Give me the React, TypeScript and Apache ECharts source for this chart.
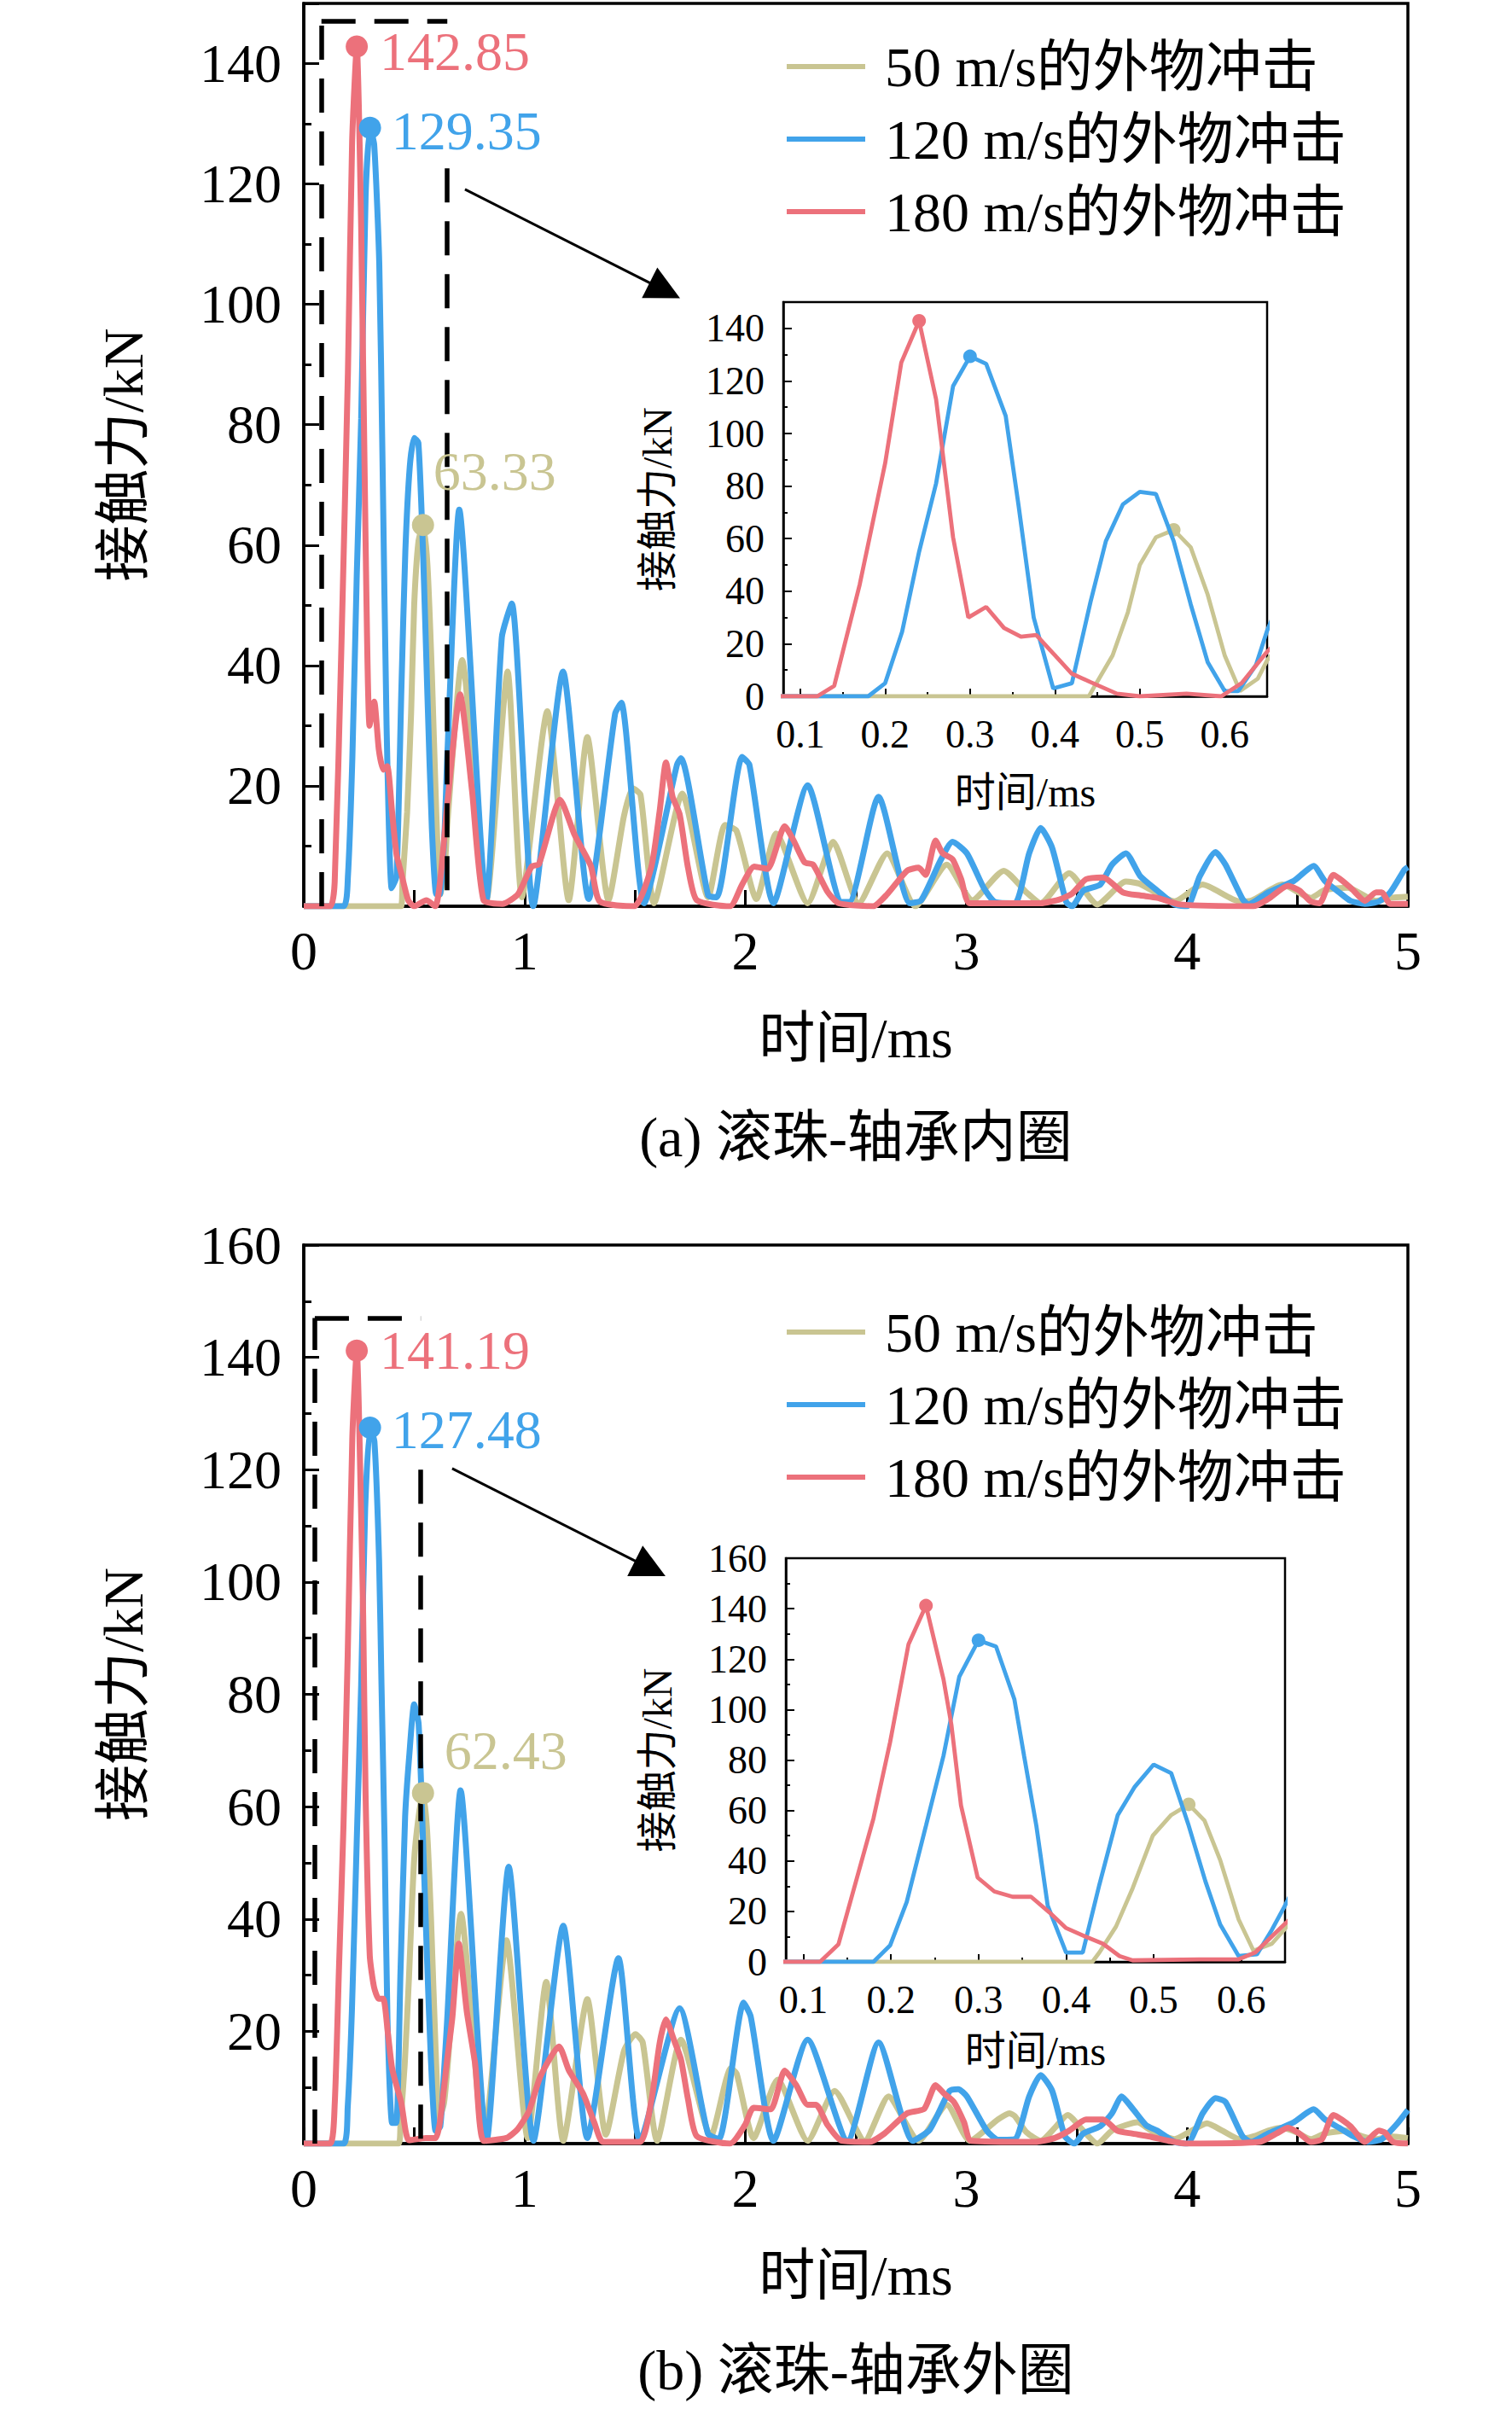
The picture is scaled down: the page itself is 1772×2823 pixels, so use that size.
import React, { useEffect, useRef } from "react";
import * as echarts from "echarts";

const FONT = "'Liberation Serif', 'Noto Sans CJK SC', serif";

const seriesNames = ["50 m/s的外物冲击", "120 m/s的外物冲击", "180 m/s的外物冲击"];
const lineColors = ["#C9C592", "#41A3EA", "#EC717B"];

// (a) 滚珠-轴承内圈: [时间 ms, 接触力 kN]
const inner50 = [
  [0, 0], [0.44, 0], [0.447, 4], [0.468, 15.6], [0.486, 32], [0.5, 50], [0.519, 60.5], [0.54, 63.33],
  [0.56, 56.7], [0.58, 38.7], [0.6, 15.6], [0.618, 2], [0.639, 6.7], [0.65, 13.7], [0.717, 40.9],
  [0.827, 1], [0.923, 39], [0.988, 1.5], [1.103, 32.4], [1.2, 1], [1.284, 28.1], [1.38, 1], [1.45, 15],
  [1.49, 19.6], [1.525, 18.5], [1.586, 0.5], [1.714, 18.7], [1.831, 1.5], [1.908, 13.5], [1.96, 12.5],
  [2.05, 1.2], [2.14, 12.1], [2.282, 0.5], [2.397, 10.7], [2.513, 0.5], [2.642, 8.8], [2.77, 0],
  [2.912, 6.9], [3.028, 1], [3.17, 5.9], [3.273, 2.3], [3.337, 0.5], [3.466, 5.5], [3.594, 0.3],
  [3.723, 4.1], [3.788, 3.7], [3.943, 0.8], [4.07, 3.6], [4.238, 0.8], [4.289, 0.9], [4.431, 3.6],
  [4.56, 1.4], [4.624, 2.7], [4.727, 3.1], [4.856, 0.9], [4.92, 1.4], [5, 1.6],
];
const inner120 = [
  [0, 0], [0.18, 0], [0.2, 5], [0.22, 24.6], [0.24, 55], [0.26, 81], [0.28, 118], [0.3, 129.35],
  [0.319, 126.5], [0.342, 106.7], [0.357, 73], [0.375, 30], [0.398, 3], [0.42, 5], [0.442, 36],
  [0.46, 59], [0.48, 73], [0.5, 77.8], [0.519, 77], [0.54, 59], [0.56, 35], [0.58, 13], [0.6, 2],
  [0.616, 2], [0.637, 12], [0.65, 25], [0.704, 65.9], [0.827, 1], [0.897, 44.7], [0.942, 50.3],
  [1.039, 0], [1.174, 39], [1.29, 1.2], [1.41, 32], [1.438, 33.8], [1.541, 0.5], [1.69, 23.5],
  [1.708, 24.6], [1.831, 1.8], [1.87, 1.5], [1.985, 24.8], [2.018, 23.5], [2.127, 0.5], [2.282, 20.1],
  [2.436, 0.7], [2.47, 0.7], [2.603, 18.2], [2.745, 0.5], [2.796, 1], [2.886, 7.8], [2.938, 10.7],
  [3.003, 8.8], [3.08, 3], [3.131, 0.7], [3.22, 0.5], [3.285, 8.8], [3.337, 13], [3.389, 9.7],
  [3.453, 0.7], [3.479, 0], [3.53, 2.6], [3.607, 3.6], [3.66, 6.9], [3.723, 8.8], [3.788, 5],
  [3.865, 2.6], [3.943, 0.3], [4, 0], [4.058, 5], [4.129, 9], [4.174, 6.9], [4.251, 1.2], [4.277, 0.3],
  [4.367, 2.3], [4.483, 4.2], [4.573, 6.7], [4.624, 4.2], [4.689, 2.3], [4.74, 0.9], [4.805, 0.4],
  [4.869, 0.8], [4.92, 2.3], [4.985, 6.1], [5, 6.5],
];
const inner180 = [
  [0, 0], [0.12, 0], [0.14, 4], [0.17, 42.5], [0.2, 88.7], [0.219, 127], [0.24, 142.85], [0.26, 113],
  [0.28, 60.5], [0.298, 30], [0.319, 34], [0.34, 26], [0.36, 22.7], [0.378, 23.3], [0.4, 15.6],
  [0.42, 8.6], [0.442, 5.4], [0.473, 1], [0.5, 0], [0.555, 1], [0.596, 0], [0.62, 5], [0.65, 17],
  [0.708, 35.2], [0.762, 19.2], [0.814, 1], [0.9, 0.4], [0.97, 2], [1.032, 6.6], [1.065, 7],
  [1.161, 17.7], [1.226, 11.9], [1.3, 6.7], [1.34, 0.8], [1.496, 0], [1.573, 6.4], [1.612, 15.9],
  [1.64, 23.9], [1.67, 18.2], [1.702, 15.3], [1.74, 6.4], [1.78, 1], [1.93, 0], [1.985, 3.6],
  [2.04, 6.6], [2.1, 6.2], [2.178, 13.3], [2.217, 11], [2.268, 7.3], [2.307, 6.9], [2.372, 2.4],
  [2.423, 0.5], [2.578, 0], [2.642, 2], [2.732, 5.9], [2.784, 6.4], [2.816, 5.2], [2.861, 10.9],
  [2.893, 8.8], [2.938, 7.8], [2.977, 4.5], [3.016, 0.5], [3.337, 0.5], [3.428, 1.2], [3.479, 2.1],
  [3.543, 4.5], [3.62, 4.8], [3.71, 2.3], [3.788, 1.8], [3.865, 1.4], [3.968, 0.3], [4.3, 0],
  [4.367, 1.2], [4.457, 3.4], [4.509, 2.6], [4.56, 0.8], [4.6, 0.5], [4.663, 5.2], [4.74, 3.1],
  [4.805, 0.9], [4.856, 2.3], [4.882, 2.3], [4.92, 0.4], [5, 0.4],
];

// (b) 滚珠-轴承外圈
const outer50 = [
  [0, 0], [0.43, 0], [0.438, 3.7], [0.457, 14], [0.476, 29.2], [0.499, 50], [0.52, 58.2], [0.54, 62.43],
  [0.558, 56], [0.576, 40.3], [0.597, 16.8], [0.614, 4.4], [0.635, 7.2], [0.649, 12.7], [0.712, 40.9],
  [0.815, 0.5], [0.918, 36.2], [1.014, 1], [1.098, 28.8], [1.175, 0.5], [1.284, 25.7], [1.368, 1.6],
  [1.45, 16.5], [1.502, 19.5], [1.535, 18], [1.6, 0.5], [1.708, 18.5], [1.843, 1.3], [1.934, 13.4],
  [1.96, 12.5], [2.037, 1], [2.146, 11.4], [2.282, 0.5], [2.404, 9.4], [2.54, 0.5], [2.648, 8.4],
  [2.784, 0.5], [2.912, 6.9], [3.016, 0.5], [3.144, 4.3], [3.196, 5.4], [3.22, 4.9], [3.273, 2],
  [3.337, 0.5], [3.401, 2.8], [3.459, 5.1], [3.53, 2.3], [3.594, 0], [3.659, 2.3], [3.723, 3.3],
  [3.775, 3.8], [3.839, 2.3], [3.943, 0.8], [4.02, 2.3], [4.09, 3.6], [4.16, 2.3], [4.238, 0.8],
  [4.302, 1.3], [4.367, 2.3], [4.431, 2.8], [4.496, 2], [4.56, 0.8], [4.624, 1.8], [4.727, 2.3],
  [4.792, 1.3], [4.856, 0.8], [4.92, 1.3], [5, 1],
];
const outer120 = [
  [0, 0], [0.18, 0], [0.199, 6.5], [0.218, 23.7], [0.24, 54], [0.26, 81.7], [0.278, 113], [0.3, 127.48],
  [0.32, 125], [0.341, 104], [0.352, 81.7], [0.366, 54], [0.379, 22.3], [0.4, 3.7], [0.419, 3.7],
  [0.438, 30.6], [0.459, 58.2], [0.478, 69.2], [0.5, 78.2], [0.52, 74.8], [0.54, 54], [0.559, 32],
  [0.576, 14.8], [0.597, 2.3], [0.618, 3], [0.635, 12.7], [0.649, 21.7], [0.71, 62.9], [0.828, 0.5],
  [0.928, 49.3], [1.04, 0.5], [1.175, 38.8], [1.284, 1], [1.425, 33], [1.522, 0.5], [1.702, 24.1],
  [1.83, 1.8], [1.88, 0.8], [1.992, 25.1], [2.024, 22.6], [2.127, 0.5], [2.282, 18.5], [2.462, 0.5],
  [2.603, 18], [2.758, 0.5], [2.835, 2.5], [2.925, 9.4], [2.964, 9.7], [3.003, 8.4], [3.093, 2.3],
  [3.144, 0.7], [3.22, 0.8], [3.285, 8.4], [3.337, 12.2], [3.389, 9.4], [3.447, 1.3], [3.49, 0],
  [3.53, 1.8], [3.607, 3.1], [3.66, 5.4], [3.704, 8.4], [3.75, 6.4], [3.814, 3.3], [3.865, 2.3],
  [3.943, 0.3], [4, 0], [4.071, 5.4], [4.129, 8.1], [4.174, 7.4], [4.251, 1.3], [4.289, 0.3],
  [4.367, 1.8], [4.483, 3.8], [4.573, 6.1], [4.624, 4.3], [4.689, 2.8], [4.753, 1.3], [4.818, 0.3],
  [4.882, 0.8], [4.946, 3.3], [5, 6],
];
const outer180 = [
  [0, 0], [0.119, 0], [0.14, 6.9], [0.159, 30.6], [0.18, 56.8], [0.199, 87], [0.22, 125.8], [0.24, 141.19],
  [0.26, 112], [0.269, 94], [0.28, 62], [0.299, 33.4], [0.318, 27.9], [0.339, 25.8], [0.36, 25.8],
  [0.381, 19.6], [0.4, 13.4], [0.423, 9.9], [0.442, 7.2], [0.461, 2.3], [0.476, 0.6], [0.552, 1],
  [0.597, 1], [0.616, 3.7], [0.649, 14.8], [0.673, 22.5], [0.702, 35.6], [0.738, 23.6], [0.776, 14.2],
  [0.815, 0.5], [0.918, 1], [0.969, 2.6], [1.02, 5.8], [1.072, 12], [1.156, 17.3], [1.2, 13.1],
  [1.265, 8.9], [1.316, 3.7], [1.355, 0.3], [1.522, 0.3], [1.573, 7.4], [1.612, 18], [1.64, 22.1],
  [1.676, 18.5], [1.708, 15], [1.74, 7.9], [1.78, 1.3], [1.93, 0], [1.998, 3.3], [2.037, 6.4],
  [2.114, 6.1], [2.178, 13], [2.23, 10.4], [2.282, 6.9], [2.32, 6.9], [2.372, 3.3], [2.436, 0.5],
  [2.56, 0.3], [2.63, 1.8], [2.732, 5.4], [2.81, 6.2], [2.861, 10.4], [2.9, 8.9], [2.944, 7.4],
  [2.99, 3.8], [3.022, 0.5], [3.311, 0.3], [3.401, 1], [3.466, 2.3], [3.543, 4.3], [3.62, 4.3],
  [3.684, 2.3], [3.75, 1.8], [3.827, 1.3], [3.917, 0.5], [3.994, 0], [4.328, 0.3], [4.405, 1.8],
  [4.457, 2.8], [4.509, 1.8], [4.56, 0.3], [4.611, 0.8], [4.663, 5.1], [4.74, 3.1], [4.805, 0.3],
  [4.869, 2.3], [4.895, 2], [4.933, 0.3], [5, 0],
];

// peak markers
const peakTimes = [0.54, 0.3, 0.24];
const innerPeaks = [63.33, 129.35, 142.85];
const outerPeaks = [62.43, 127.48, 141.19];

const mainXTicks = { min: 0, max: 5, interval: 1 };
const insetXRange = { min: 0.08, max: 0.65 };
const captions = ["(a) 滚珠-轴承内圈", "(b) 滚珠-轴承外圈"];

// label offsets for the peak values [olive, blue, red]
const innerLabelOffsets = [[-6, -63], [7, 4], [9, 6]];
const outerLabelOffsets = [[7, -50], [7, 2], [9, 0]];

const mainYAxis = (gridIndex: number, max: number, showMax: boolean) => ({
  gridIndex,
  type: "value",
  min: 0,
  max,
  interval: 20,
  name: "接触力/kN",
  nameLocation: "middle",
  nameGap: 179,
  nameTextStyle: { fontSize: 66, fontFamily: FONT, color: "#000" },
  axisLine: { show: true, lineStyle: { color: "#000", width: 3.5 } },
  axisTick: { show: true, inside: true, length: 18, lineStyle: { color: "#000", width: 3 } },
  minorTick: { show: true, splitNumber: 2, length: 9, lineStyle: { color: "#000", width: 3 } },
  axisLabel: {
    fontSize: 64, fontFamily: FONT, color: "#000", margin: 26,
    showMinLabel: false, showMaxLabel: showMax,
  },
  splitLine: { show: false },
});

const mainXAxis = (gridIndex: number) => ({
  gridIndex,
  type: "value",
  ...mainXTicks,
  name: "时间/ms",
  nameLocation: "middle",
  nameGap: 121,
  nameTextStyle: { fontSize: 66, fontFamily: FONT, color: "#000" },
  axisLine: { show: true, lineStyle: { color: "#000", width: 3.5 } },
  axisTick: { show: true, inside: true, length: 19, lineStyle: { color: "#000", width: 3 } },
  minorTick: { show: true, splitNumber: 2, length: 19, lineStyle: { color: "#000", width: 3 } },
  axisLabel: { fontSize: 64, fontFamily: FONT, color: "#000", margin: 20 },
  splitLine: { show: false },
});

const insetYAxis = (gridIndex: number, max: number, showMax: boolean, gap: number) => ({
  gridIndex,
  type: "value",
  min: 0,
  max,
  interval: 20,
  name: "接触力/kN",
  nameLocation: "middle",
  nameGap: gap,
  nameTextStyle: { fontSize: 48, fontFamily: FONT, color: "#000" },
  axisLine: { show: true, lineStyle: { color: "#000", width: 2.5 } },
  axisTick: { show: true, inside: true, length: 10, lineStyle: { color: "#000", width: 2 } },
  minorTick: { show: true, splitNumber: 2, length: 5, lineStyle: { color: "#000", width: 2 } },
  axisLabel: { fontSize: 46, fontFamily: FONT, color: "#000", margin: 22, showMaxLabel: showMax },
  splitLine: { show: false },
});

const insetXAxis = (gridIndex: number, gap: number) => ({
  gridIndex,
  type: "value",
  ...insetXRange,
  splitNumber: 5,
  name: "时间/ms",
  nameLocation: "middle",
  nameGap: gap,
  nameTextStyle: { fontSize: 48, fontFamily: FONT, color: "#000" },
  axisLine: { show: true, lineStyle: { color: "#000", width: 2.5 } },
  axisTick: { show: true, inside: true, length: 9, lineStyle: { color: "#000", width: 2 } },
  minorTick: { show: true, splitNumber: 2, length: 5, lineStyle: { color: "#000", width: 2 } },
  axisLabel: {
    fontSize: 46, fontFamily: FONT, color: "#000", margin: 21,
    showMinLabel: false, showMaxLabel: false,
  },
  splitLine: { show: false },
});

const buildSeries = (
  axisIndex: number,
  sets: number[][][],
  peaks: number[],
  offsets: number[][],
  inset: boolean,
  extra: any[]
) =>
  sets.map((data, i) => ({
    type: "line",
    name: seriesNames[i],
    xAxisIndex: axisIndex,
    yAxisIndex: axisIndex,
    data,
    symbol: "none",
    showSymbol: false,
    smooth: inset ? false : 0.2,
    clip: true,
    z: (inset ? 10 : 2) + i,
    lineStyle: { color: lineColors[i], width: inset ? 4.8 : 7 },
    itemStyle: { color: lineColors[i] },
    markPoint: {
      symbol: "circle",
      symbolSize: inset ? 16 : 26,
      silent: true,
      itemStyle: { color: lineColors[i] },
      label: inset
        ? { show: false }
        : {
            show: true,
            position: "right",
            formatter: "{c}",
            offset: offsets[i],
            fontSize: 64,
            fontFamily: FONT,
            color: lineColors[i],
          },
      data: [{ coord: [peakTimes[i], peaks[i]], value: peaks[i] }],
    },
    ...(extra[i] || {}),
  }));

const dashedStyle = { type: [40, 22], width: 5.5, color: "#000" };

const boxLines = (x0: number, x1: number, top: number, rightTop: number) => ({
  markLine: {
    silent: true,
    symbol: "none",
    label: { show: false },
    lineStyle: dashedStyle,
    data: [
      [{ coord: [x0, 0] }, { coord: [x0, top] }],
      [{ coord: [x0, top] }, { coord: [x1, top] }],
      [{ coord: [x1, rightTop] }, { coord: [x1, 0] }],
    ],
  },
});

const arrowLine = (from: number[], to: number[]) => ({
  markLine: {
    silent: true,
    symbol: ["none", "triangle"],
    symbolSize: 40,
    label: { show: false },
    lineStyle: { type: "solid", width: 3, color: "#000" },
    data: [[{ coord: from }, { coord: to }]],
  },
});

const legendAt = (top: number) => ({
  orient: "vertical",
  left: 922,
  top,
  padding: 0,
  icon: "rect",
  itemWidth: 92,
  itemHeight: 6,
  itemGap: 19,
  selectedMode: false,
  data: seriesNames,
  textStyle: { fontSize: 66, fontFamily: FONT, color: "#000", lineHeight: 66, padding: [0, 0, 0, 18] },
});

const App: React.FC = () => {
  const chartRef = useRef<HTMLDivElement>(null);

  useEffect(() => {
    if (!chartRef.current) return;
    const chart = echarts.init(chartRef.current, undefined, { renderer: "svg" });

    const option: any = {
      animation: false,
      backgroundColor: "#fff",
      textStyle: { fontFamily: FONT },
      grid: [
        { left: 356, top: 4, width: 1294, height: 1058, show: true, borderColor: "#000", borderWidth: 3.5 },
        { left: 918, top: 354, width: 567, height: 462, show: true, borderColor: "#000", borderWidth: 2.5, backgroundColor: "#fff" },
        { left: 356, top: 1459, width: 1294, height: 1053, show: true, borderColor: "#000", borderWidth: 3.5 },
        { left: 921, top: 1826, width: 585, height: 473, show: true, borderColor: "#000", borderWidth: 2.5, backgroundColor: "#fff" },
      ],
      xAxis: [mainXAxis(0), insetXAxis(1, 88), mainXAxis(2), insetXAxis(3, 80)],
      yAxis: [
        mainYAxis(0, 150, false),
        insetYAxis(1, 150, false, 124),
        mainYAxis(2, 160, true),
        insetYAxis(3, 160, true, 127),
      ],
      legend: [legendAt(45), legendAt(1528)],
      graphic: captions.map((text, i) => ({
        type: "text",
        x: 1003,
        y: i === 0 ? 1332 : 2777,
        style: { text, fontSize: 66, fontFamily: FONT, fill: "#000", align: "center", verticalAlign: "middle" },
      })),
      series: [
        ...buildSeries(0, [inner50, inner120, inner180], innerPeaks, innerLabelOffsets, false, [
          boxLines(0.08, 0.65, 147, 122.6),
          arrowLine([0.73, 119.1], [1.635, 102.3]),
        ]),
        ...buildSeries(1, [inner50, inner120, inner180], innerPeaks, innerLabelOffsets, true, []),
        ...buildSeries(2, [outer50, outer120, outer180], outerPeaks, outerLabelOffsets, false, [
          boxLines(0.05, 0.53, 147, 120),
          arrowLine([0.672, 120.2], [1.569, 102.4]),
        ]),
        ...buildSeries(3, [outer50, outer120, outer180], outerPeaks, outerLabelOffsets, true, []),
      ],
    };

    chart.setOption(option);
    return () => {
      chart.dispose();
    };
  }, []);

  return (
    <div
      ref={chartRef}
      style={{ position: "absolute", left: 0, top: 0, width: 1772, height: 2823 }}
    />
  );
};

export default App;
